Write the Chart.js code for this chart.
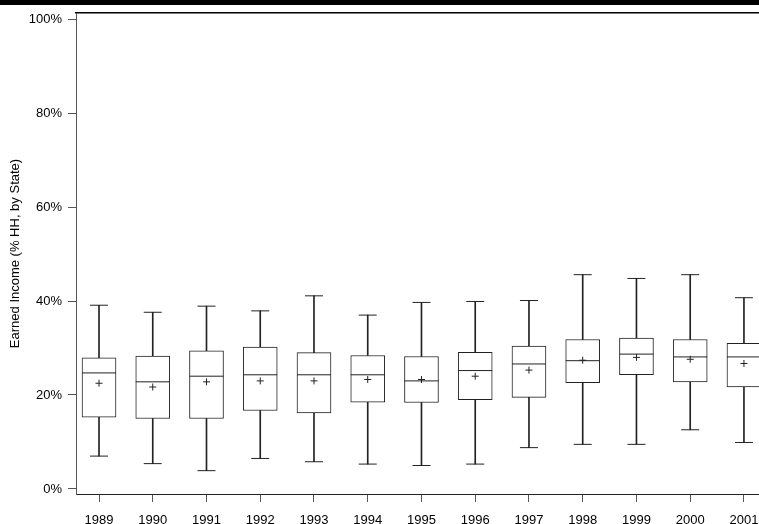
<!DOCTYPE html>
<html>
<head>
<meta charset="utf-8">
<script src="https://cdn.jsdelivr.net/npm/chart.js@4.4.1/dist/chart.umd.min.js"></script>
<style>
  html, body { margin: 0; padding: 0; background: #fff; overflow: hidden; }
  #wrap { position: relative; width: 759px; height: 524px; }
  #faixa { position: absolute; left: 0; top: 0; width: 759px; height: 5px; background: #000; z-index: 2; }
</style>
</head>
<body>
<div id="wrap">
  <div id="faixa"></div>
  <canvas id="grafico" width="759" height="524"></canvas>
</div>
<script>
// Dados (percentual do rendimento, por estado)
const anos = [1989, 1990, 1991, 1992, 1993, 1994, 1995, 1996, 1997, 1998, 1999, 2000, 2001];
const minimos = [7.0, 5.4, 3.9, 6.5, 5.8, 5.3, 5.0, 5.3, 8.8, 9.5, 9.5, 12.6, 9.9];
const quartil1 = [15.3, 15.0, 15.0, 16.7, 16.2, 18.5, 18.4, 19.0, 19.5, 22.6, 24.3, 22.8, 21.7];
const medianas = [24.7, 22.8, 24.0, 24.3, 24.3, 24.3, 23.0, 25.2, 26.6, 27.3, 28.7, 28.1, 28.1];
const medias = [22.5, 21.7, 22.8, 23.0, 23.0, 23.3, 23.3, 24.0, 25.3, 27.4, 28.0, 27.6, 26.7];
const quartil3 = [27.9, 28.3, 29.4, 30.2, 29.0, 28.4, 28.2, 29.1, 30.4, 31.8, 32.1, 31.8, 31.0];
const maximos = [39.1, 37.6, 38.9, 37.9, 41.1, 37.0, 39.7, 39.9, 40.1, 45.6, 44.8, 45.6, 40.7];
const ticksY = [0, 20, 40, 60, 80, 100];

Chart.defaults.font.family = "'Liberation Sans', Arial, sans-serif";
Chart.defaults.font.size = 13;
Chart.defaults.color = '#000';

const preto = '#222';

const pontos = (valores) => anos.map((a, i) => ({ x: a, y: valores[i] }));
const faixas = (de, ate) => anos.map((a, i) => ({ x: a, y: [de[i], ate[i]] }));

// zera o espaço extra que o Chart.js reserva para os rótulos nas pontas
const semFolga = (escala) => {
  escala.paddingLeft = 0;
  escala.paddingRight = 0;
  escala.paddingTop = 0;
  escala.paddingBottom = 0;
};

new Chart(document.getElementById('grafico').getContext('2d'), {
  data: {
    datasets: [
      // médias (ordem menor fica por cima)
      { type: 'scatter', order: 0, data: pontos(medias), pointStyle: 'cross', pointRadius: 3.5, borderColor: preto, borderWidth: 1 },
      // medianas
      { type: 'scatter', order: 1, data: pontos(medianas), pointStyle: 'line', pointRadius: 17, borderColor: preto, borderWidth: 1 },
      // traços nas pontas dos bigodes
      { type: 'scatter', order: 2, data: pontos(minimos), pointStyle: 'line', pointRadius: 9, borderColor: preto, borderWidth: 1 },
      { type: 'scatter', order: 2, data: pontos(maximos), pointStyle: 'line', pointRadius: 9, borderColor: preto, borderWidth: 1 },
      // caixas
      { type: 'bar', order: 3, data: faixas(quartil1, quartil3), backgroundColor: '#fff', borderColor: preto, borderWidth: 1, borderSkipped: false, barThickness: 34, grouped: false },
      // bigodes inferior e superior
      { type: 'bar', order: 4, data: faixas(minimos, quartil1), backgroundColor: preto, borderWidth: 0, barThickness: 1, grouped: false },
      { type: 'bar', order: 4, data: faixas(quartil3, maximos), backgroundColor: preto, borderWidth: 0, barThickness: 1, grouped: false },
    ],
  },
  options: {
    responsive: false,
    animation: false,
    events: [],
    layout: { padding: 0, autoPadding: false },
    plugins: { legend: { display: false }, tooltip: { enabled: false } },
    scales: {
      x: {
        type: 'linear',
        position: 'bottom',
        offset: false,
        min: 1988.572,
        max: 2001.28,
        afterBuildTicks: (escala) => { escala.ticks = anos.map((a) => ({ value: a })); },
        afterFit: (escala) => { escala.height = 30; semFolga(escala); },
        ticks: { callback: (v) => String(v), padding: 11, maxRotation: 0, autoSkip: false },
        grid: { display: true, offset: false, drawOnChartArea: false, drawTicks: true, tickLength: 8, color: '#555' },
        border: { display: true, color: '#222', width: 1 },
      },
      topo: {
        type: 'linear',
        position: 'top',
        offset: false,
        min: 1988.572,
        max: 2001.28,
        afterFit: (escala) => { escala.height = 13; semFolga(escala); },
        ticks: { display: false },
        grid: { display: false },
        border: { display: true, color: '#000', width: 1.5 },
      },
      y: {
        type: 'linear',
        position: 'left',
        min: -1.064,
        max: 101.277,
        afterBuildTicks: (escala) => { escala.ticks = ticksY.map((v) => ({ value: v })); },
        afterFit: (escala) => { escala.width = 76; semFolga(escala); },
        ticks: { callback: (v) => v + '%', padding: 6 },
        grid: { display: true, drawOnChartArea: false, drawTicks: true, tickLength: 8, color: '#555' },
        border: { display: true, color: '#555', width: 1 },
        title: { display: true, text: 'Earned Income (% HH, by State)', padding: { top: 8, bottom: 0 } },
      },
    },
  },
});
</script>
</body>
</html>
